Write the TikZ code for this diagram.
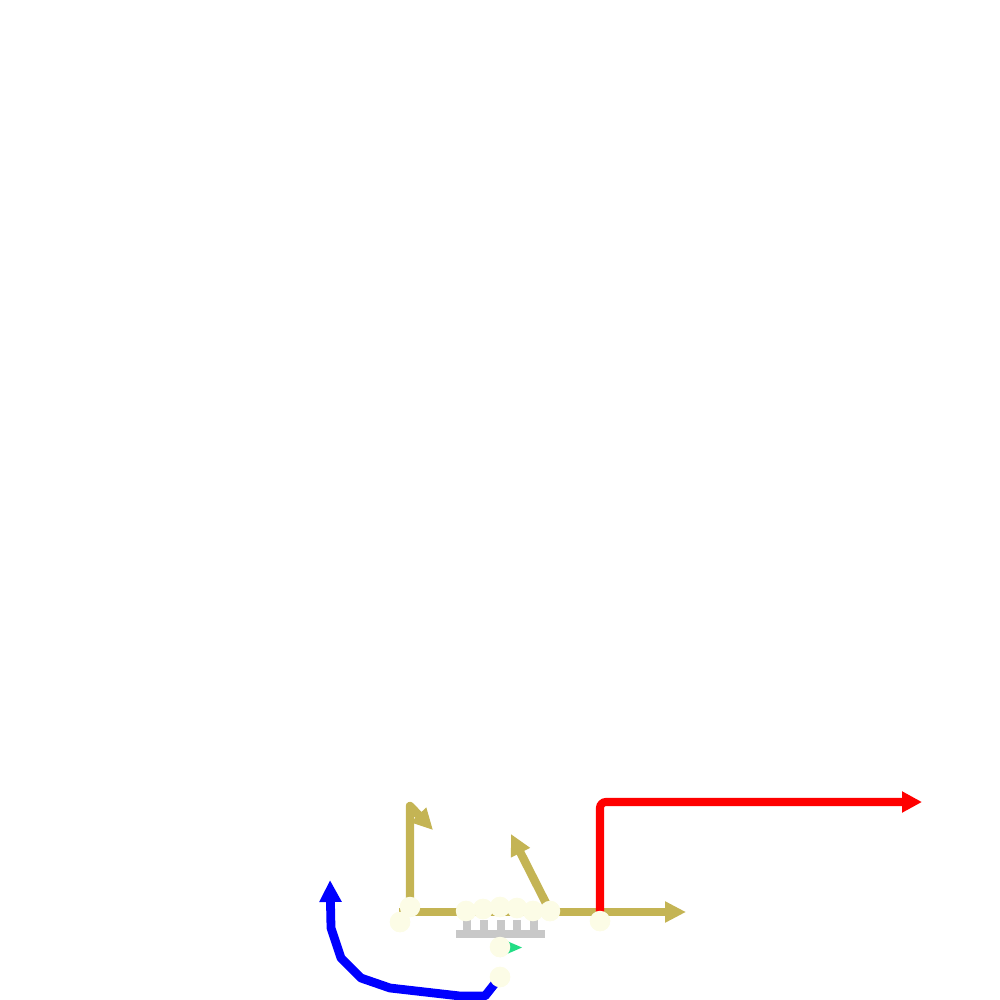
\documentclass[tikz,border=0pt]{standalone}
\usepackage{tikz}
\usetikzlibrary{arrows.meta}
\definecolor{olivearc}{HTML}{C4B454}
\definecolor{dotfill}{HTML}{FCFCE6}
\definecolor{combgray}{HTML}{C8C8C8}
\definecolor{tipgreen}{HTML}{22DD85}
\tikzset{
  oarc/.style={-{Triangle[length=2.1mm,width=2.0mm]}, draw=olivearc, line width=2.4pt, line join=round},
  rarc/.style={-{Triangle[length=2.0mm,width=2.0mm]}, draw=red, line width=2.3pt, rounded corners=0.6mm},
  barc/.style={-{Triangle[length=2.2mm,width=2.1mm]}, draw=blue, line width=2.5pt, line join=round},
  dot/.style={circle, fill=dotfill, inner sep=0pt, minimum size=2.05mm},
  comb/.style={fill=combgray, draw=none},
  gtip/.style={fill=tipgreen, draw=none},
}

\begin{document}
\begin{tikzpicture}[x=1cm,y=1cm]
  \useasboundingbox (0,0) rectangle (10,-10);
  \node[dot] (d1) at (4.000,-9.220) {};
  \node[dot] (d2) at (4.100,-9.070) {};
  \node[dot] (d3) at (4.660,-9.110) {};
  \node[dot] (d4) at (4.830,-9.090) {};
  \node[dot] (d5) at (5.000,-9.070) {};
  \node[dot] (d6) at (5.170,-9.080) {};
  \node[dot] (d7) at (5.330,-9.110) {};
  \node[dot] (d8) at (5.500,-9.110) {};
  \node[dot] (d9) at (6.000,-9.210) {};
  \node[dot] (d10) at (5.000,-9.470) {};
  \node[dot] (d11) at (5.000,-9.770) {};
  \coordinate (vtop) at (4.100,-8.060);
  \coordinate (vend) at (4.330,-8.300);
  \coordinate (hbeg) at (3.990,-9.120);
  \coordinate (hend) at (6.860,-9.120);
  \coordinate (mend) at (5.110,-8.340);
  \coordinate (rtop) at (6.000,-8.020);
  \coordinate (rend) at (9.220,-8.020);
  \coordinate (bend) at (3.300,-8.800);
  % comb and green tip
  \fill[comb] (4.560,-9.300) rectangle (5.450,-9.380);
  \foreach \tx in {4.630,4.800,4.970,5.130,5.300}
    \fill[comb] (\tx,-9.200) rectangle ++(0.080,-0.110);
  \fill[gtip] (5.000,-9.380) -- (5.220,-9.475) -- (5.000,-9.570) -- cycle;
  % arcs
  \draw[oarc] (d2.center) -- (vtop) -- (vend);
  \draw[oarc] (hbeg) -- (hend);
  \draw[oarc] (d8.center) -- (mend);
  \draw[rarc] (d9.center) -- (rtop) -- (rend);
  \draw[barc] (d11.center) -- (4.850,-9.960) -- (4.600,-9.960) -- (3.900,-9.880)
    -- (3.610,-9.780) -- (3.410,-9.580) -- (3.310,-9.280) -- (bend);
  \node[dot] at (d1) {};
  \node[dot] at (d2) {};
  \node[dot] at (d3) {};
  \node[dot] at (d4) {};
  \node[dot] at (d5) {};
  \node[dot] at (d6) {};
  \node[dot] at (d7) {};
  \node[dot] at (d8) {};
  \node[dot] at (d9) {};
  \node[dot] at (d10) {};
  \node[dot] at (d11) {};
\end{tikzpicture}
\end{document}
